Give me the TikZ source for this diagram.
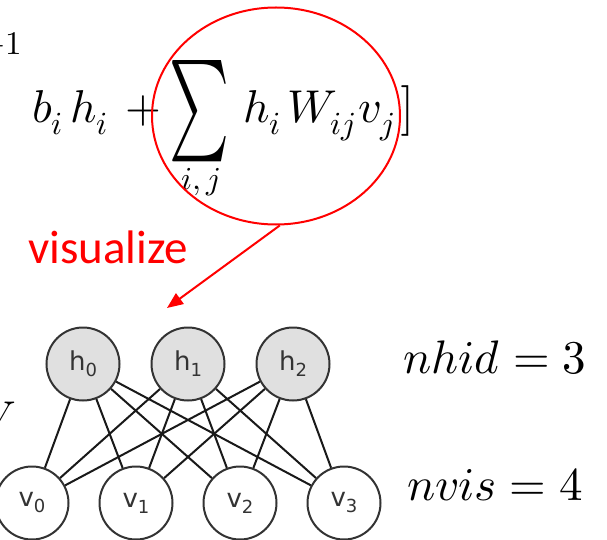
\documentclass[tikz,border=0pt]{standalone}
\usepackage{fontspec}
\usepackage{unicode-math}
\setmathfont{Latin Modern Math}
\usepackage{graphicx}
\newfontfamily\calib{Carlito}
\newfontfamily\dejav{DejaVu Sans}
\usetikzlibrary{shapes.geometric,arrows.meta}
\definecolor{nodeline}{HTML}{333333}
\definecolor{hidfill}{HTML}{E0E0E0}
\newcommand{\unitlab}[2]{#1\raisebox{-6pt}{\fontsize{18}{18}\selectfont #2}}
\begin{document}
\begin{tikzpicture}[x=1pt,y=-1pt,
  unit/.style={circle,draw=nodeline,line width=2pt,minimum size=73pt,inner sep=0pt,
    font=\dejav\fontsize{26}{28}\selectfont,text=nodeline},
  hid/.style={unit,fill=hidfill},
  vis/.style={unit,fill=white},
  link/.style={draw=black!90,line width=2pt},
  big/.style={font=\fontsize{46}{50}\selectfont,inner sep=0pt,outer sep=0pt},
  small/.style={font=\fontsize{33}{35}\selectfont,inner sep=0pt,outer sep=0pt},
]
\useasboundingbox (0,0) rectangle (607,540);
% partial texts cut by the left edge
\node[small,anchor=base east] (one) at (22,55) {$-1$};
\node[big,anchor=base east] (wcut) at (16,433) {$W$};
% formula
\node[big,anchor=base west] (bi) at (32,123) {$b_i$};
\node[big,anchor=base west] (hi) at (70,123) {$h_i$};
\node[big,anchor=base west] (plus) at (125,123) {$+$};
\node[inner sep=0pt] (sum) at (200,111) {\resizebox{60pt}{76pt}{$\sum$}};
\node[small,font=\fontsize{32}{34}\selectfont] (lim) at (201,182) {$i,j$};
\node[big,anchor=base west] (hj) at (243,123) {$h_i$};
\node[big,anchor=base west] (wij) at (287,123) {$W_{ij}$};
\node[big,anchor=base west] (vj) at (358,123) {$v_j$};
\node[big,anchor=base west] (brk) at (400,123) {$\big]$};
% ring and arrow
\node[ellipse,draw=red,line width=2pt,minimum width=248pt,minimum height=217pt,inner sep=0pt] (ring) at (276,116) {};
\coordinate (tip) at (167,308);
\draw[red,line width=2pt,-{Triangle[length=16pt,width=13pt]}] (ring.-88) -- (tip);
\node[font=\calib\fontsize{47}{52}\selectfont,text=red,anchor=base west,inner sep=0pt] (vlab) at (28,263) {visualize};
% network
\foreach \n/\x in {0/83,1/188,2/293} \node[hid] (h\n) at (\x,364) {\unitlab{h}{\n}};
\foreach \n/\x in {0/32,1/136,2/240,3/344} \node[vis] (v\n) at (\x,503) {\unitlab{v}{\n}};
\foreach \a in {0,1,2} \foreach \b in {0,1,2,3} \draw[link] (h\a) -- (v\b);
% counts
\node[big,anchor=base west,font=\fontsize{47}{50}\selectfont] (nh) at (403,373) {$nhid=3$};
\node[big,anchor=base west,font=\fontsize{47}{50}\selectfont] (nv) at (407,500) {$nvis=4$};
\end{tikzpicture}
\end{document}
